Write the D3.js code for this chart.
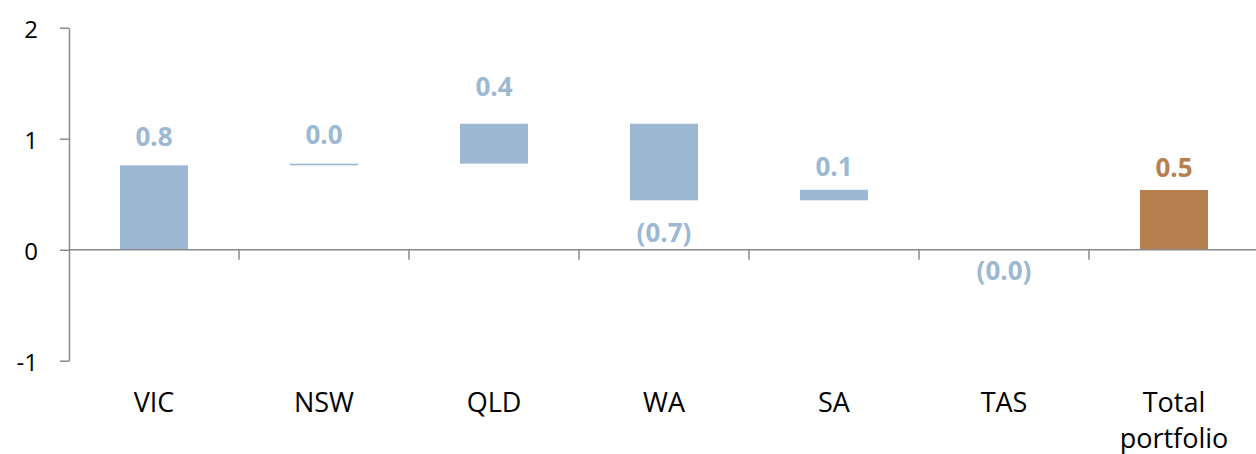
<!DOCTYPE html>
<html>
<head>
<meta charset="utf-8">
<script src="https://cdn.jsdelivr.net/npm/d3@7"></script>
<style>
	body { margin: 0; background: #fff; }
	text { font-family: "Open Sans", "Liberation Sans", sans-serif; }
</style>
</head>
<body>
<svg id="waterfall"></svg>
<script>
// categories and movements
var categories = ["VIC", "NSW", "QLD", "WA", "SA", "TAS", "Total portfolio"];
var changes = [0.76, 0.015, 0.36, -0.69, 0.095, -0.002];
// where each data label sits, in value units (labels come from a hidden series in the original)
var labelAt = [1.015, 1.04, 1.47, 0.155, 0.745, -0.19, 0.74];
var yTicks = [-1, 0, 1, 2];

var width = 1256, height = 454;
var svg = d3.select("#waterfall")
	.attr("width", width)
	.attr("height", height);

var xScale = d3.scaleBand()
	.domain(categories)
	.range([69, 69 + 170 * categories.length])
	.paddingInner(0.6)
	.paddingOuter(0.3);
var yScale = d3.scaleLinear().domain([-1, 2]).range([360.7, 27.7]);

// build the steps: floating bars then the total from zero
var bars = [];
var running = 0;
for (var i = 0; i < changes.length; i++) {
	var start = running;
	running += changes[i];
	bars.push({ name: categories[i], y0: start, y1: running, value: changes[i], total: false });
}
bars.push({ name: categories[categories.length - 1], y0: 0, y1: running, value: running, total: true });

var fmtNum = d3.format(".1f");
function fmtLabel(v) {
	return v < 0 ? "(" + fmtNum(Math.abs(v)) + ")" : fmtNum(v);
}

var blue = "#9cb8d3", brown = "#b5804e";

function barHeight(d) { return Math.abs(yScale(d.y0) - yScale(d.y1)); }

// bars under half a pixel don't show in the original
svg.append("g").attr("class", "bars")
	.selectAll("rect")
	.data(bars.filter(function(d) { return barHeight(d) >= 0.5; }))
	.enter()
	.append("rect")
	.attr("x", function(d) { return xScale(d.name); })
	.attr("width", xScale.bandwidth())
	.attr("y", function(d) { return yScale(Math.max(d.y0, d.y1)); })
	.attr("height", barHeight)
	.attr("fill", function(d) { return d.total ? brown : blue; });

// axes
var xAxisG = svg.append("g")
	.attr("class", "xAxis")
	.attr("transform", "translate(0," + yScale(0) + ")")
	.call(d3.axisBottom(xScale).tickSize(0).tickFormat(""));
xAxisG.select(".domain").attr("d", "M69,0H" + width);

var boundaries = d3.range(1, categories.length).map(function(i) { return 69 + xScale.step() * i; });
xAxisG.selectAll(".boundary")
	.data(boundaries)
	.enter()
	.append("line")
	.attr("class", "boundary")
	.attr("x1", function(d) { return d; })
	.attr("x2", function(d) { return d; })
	.attr("y1", 0)
	.attr("y2", 10);

var yAxisG = svg.append("g")
	.attr("class", "yAxis")
	.attr("transform", "translate(69,0)")
	.call(d3.axisLeft(yScale).tickValues(yTicks).tickSize(9).tickSizeOuter(0)
		.tickFormat(function(d) { return String(d); }));

svg.selectAll(".xAxis path, .xAxis line, .yAxis path, .yAxis line")
	.attr("stroke", "#8a8a8a")
	.attr("stroke-width", 1.5);

yAxisG.selectAll("text")
	.attr("x", -31)
	.attr("dy", "0.4em")
	.attr("fill", "#000")
	.attr("font-size", 24)
	.attr("font-family", "'Open Sans', sans-serif");

// category labels, wrapped on spaces for the total
var catG = svg.append("g").attr("class", "categories");
categories.forEach(function(c) {
	var words = c.split(" ");
	var t = catG.append("text")
		.attr("x", xScale(c) + xScale.bandwidth() / 2)
		.attr("y", 412)
		.attr("text-anchor", "middle")
		.attr("font-size", 27)
		.attr("fill", "#000");
	words.forEach(function(w, j) {
		t.append("tspan")
			.attr("x", xScale(c) + xScale.bandwidth() / 2)
			.attr("dy", j == 0 ? 0 : 36)
			.text(w);
	});
});

// data labels
svg.append("g").attr("class", "labels")
	.selectAll("text")
	.data(bars)
	.enter()
	.append("text")
	.attr("x", function(d) { return xScale(d.name) + xScale.bandwidth() / 2; })
	.attr("y", function(d, i) { return yScale(labelAt[i]); })
	.attr("dy", "0.36em")
	.attr("text-anchor", "middle")
	.attr("font-size", 26)
	.attr("font-weight", "bold")
	.attr("fill", function(d) { return d.total ? brown : blue; })
	.text(function(d) { return fmtLabel(d.value); });
</script>
</body>
</html>
